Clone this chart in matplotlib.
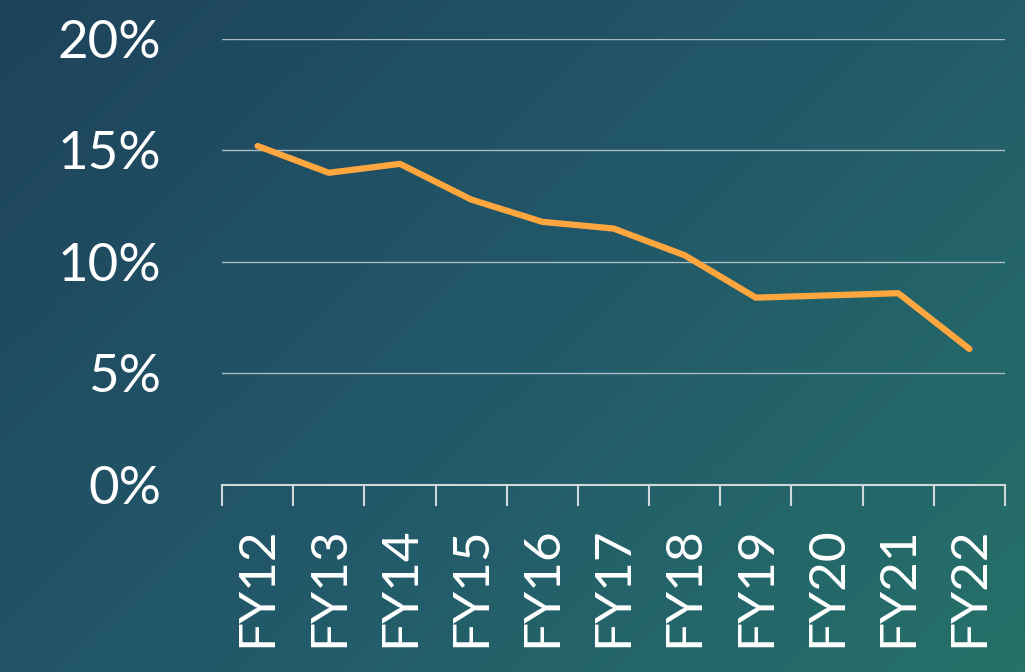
import matplotlib
matplotlib.use("Agg")
import matplotlib.pyplot as plt
import numpy as np
from matplotlib.colors import LinearSegmentedColormap

plt.rcParams["font.family"] = ["Lato", "DejaVu Sans"]

# data
years = ["FY12", "FY13", "FY14", "FY15", "FY16", "FY17", "FY18", "FY19", "FY20", "FY21", "FY22"]
rates = [15.2, 14.0, 14.4, 12.8, 11.8, 11.5, 10.3, 8.4, 8.5, 8.6, 6.1]
yticks = [0, 5, 10, 15, 20]

fig = plt.figure(figsize=(10.25, 6.72), dpi=100)

# gradient background: dark blue top-left -> teal bottom-right
bg = fig.add_axes([0, 0, 1, 1])
bg.set_axis_off()
xx, yy = np.meshgrid(np.linspace(0, 1, 300), np.linspace(0, 1, 200))
t = xx * 0.6 + yy * 0.4
cmap = LinearSegmentedColormap.from_list("bg", ["#1e435a", "#22586a", "#267169"])
bg.imshow(t, cmap=cmap, aspect="auto", extent=[0, 1, 0, 1], origin="upper")

ax = fig.add_axes([0.2166, 0.2783, 0.7639, 0.6637])
ax.patch.set_alpha(0)

x = np.arange(len(years))
ax.plot(x, rates, color="#FFA73E", linewidth=4.5, solid_capstyle="round",
        solid_joinstyle="round", zorder=3)

ax.set_xlim(-0.5, len(years) - 0.5)
ax.set_ylim(0, 20)
ax.set_yticks(yticks)
ax.set_yticklabels([f"{v}%" for v in yticks])
for v in yticks[1:]:
    ax.axhline(v, color="#A9BCC4", linewidth=1, zorder=1)

# category labels at centers, tick marks at boundaries
ax.set_xticks(x)
ax.set_xticklabels(years, rotation=90)
ax.set_xticks(np.arange(-0.5, len(years)), minor=True)
ax.tick_params(axis="x", which="major", length=0, pad=30, labelsize=37, colors="white")
ax.tick_params(axis="x", which="minor", length=15, width=1.5, color="#D0D8DC", direction="out")
ax.tick_params(axis="y", length=0, pad=44, labelsize=38, colors="white")

for s in ["top", "right", "left"]:
    ax.spines[s].set_visible(False)
ax.spines["bottom"].set_color("#D0D8DC")
ax.spines["bottom"].set_linewidth(1.5)

fig.savefig("out.png", dpi=100)
